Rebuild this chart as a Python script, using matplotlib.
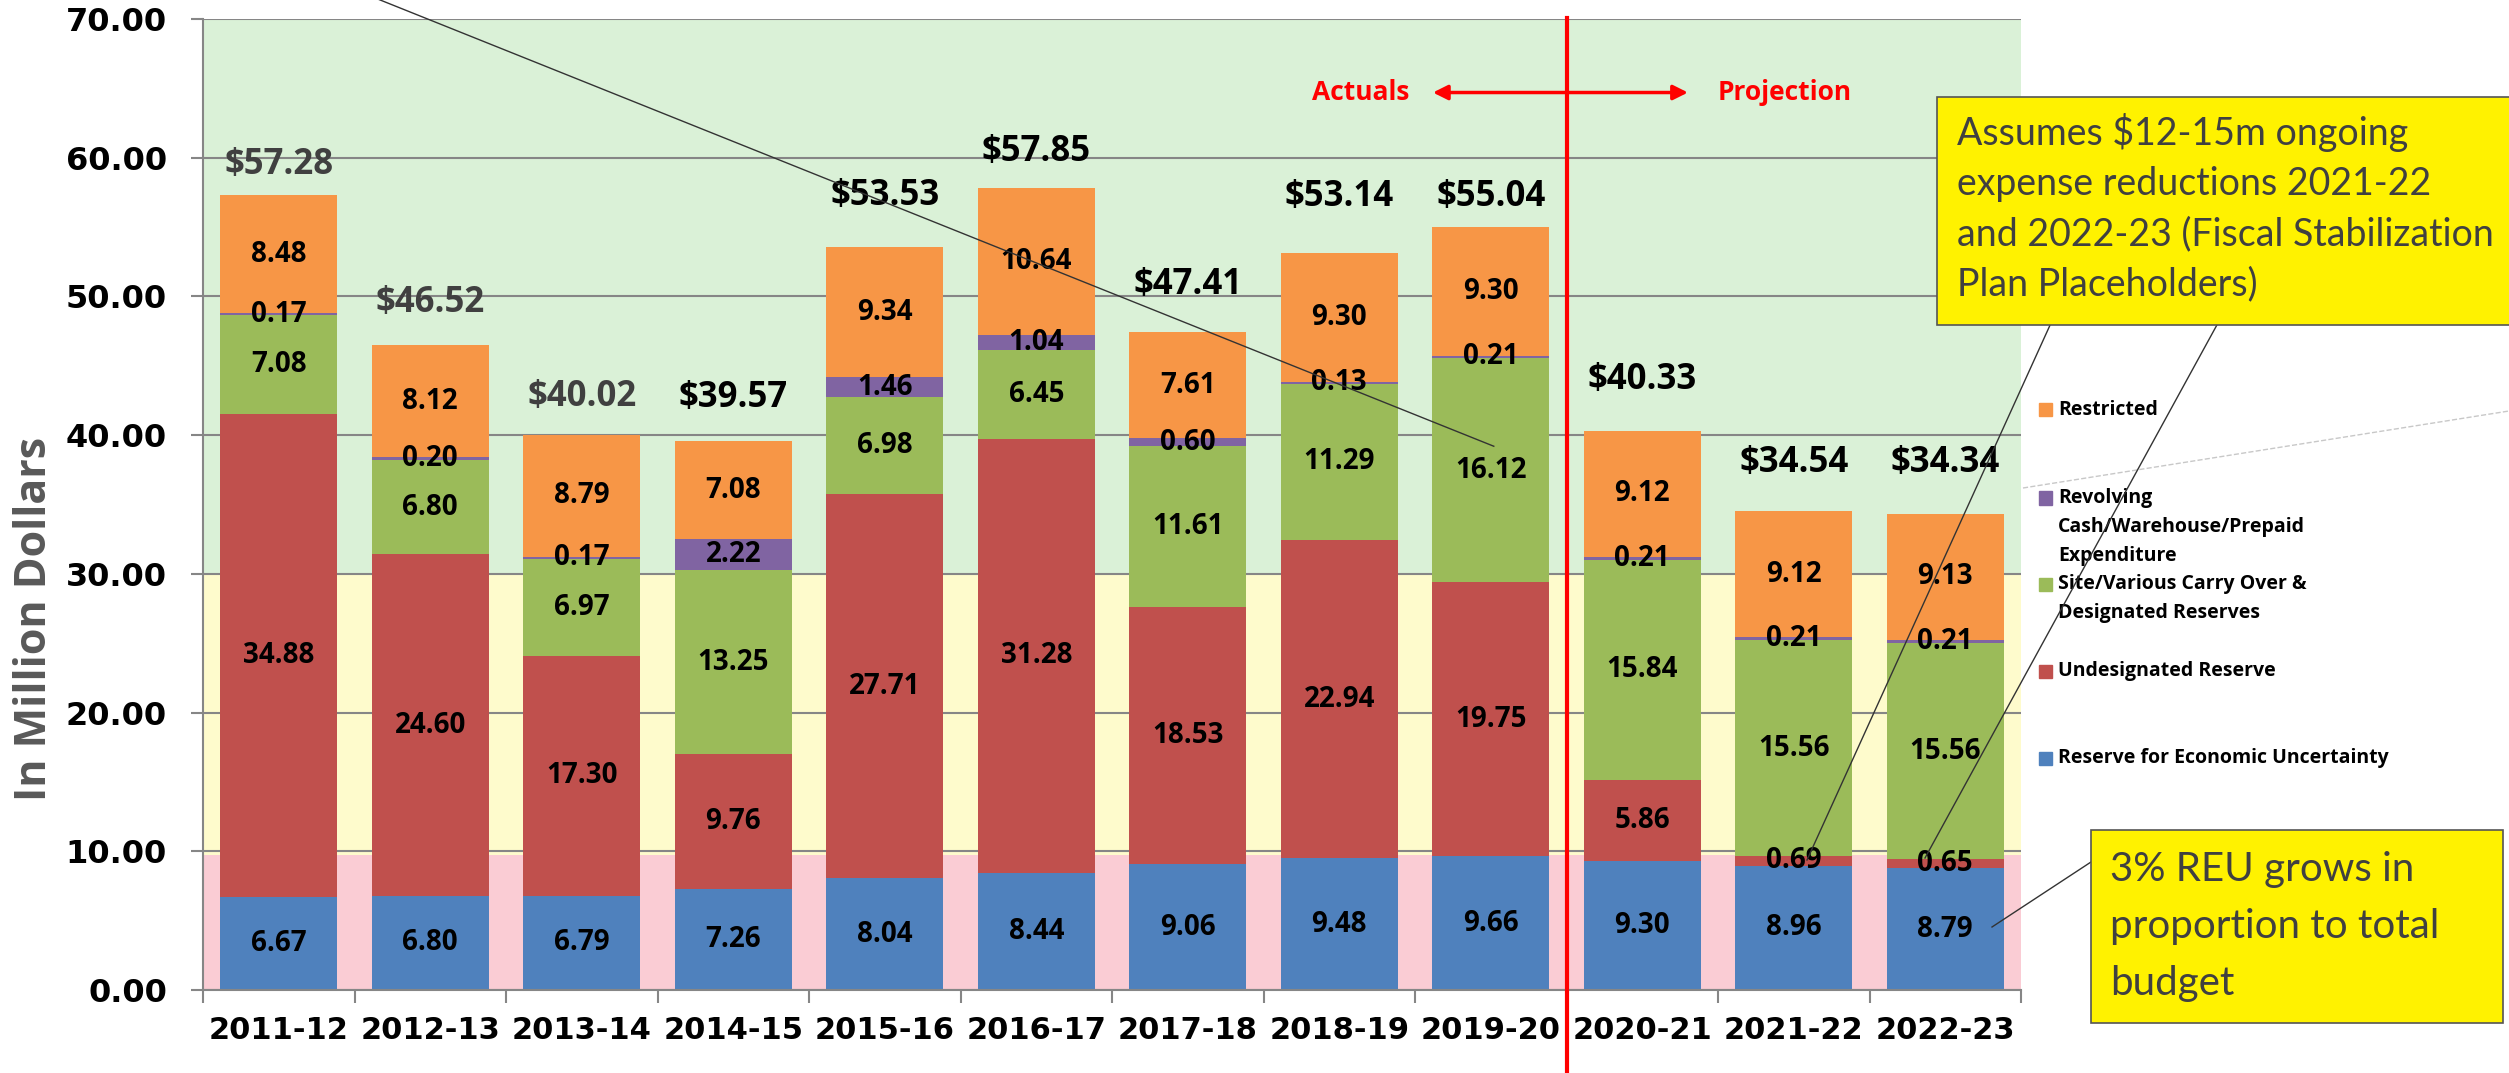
import matplotlib
matplotlib.use('Agg')
import matplotlib.pyplot as plt
import numpy as np
from matplotlib.patches import Rectangle
from matplotlib.lines import Line2D

plt.rcParams['font.family'] = ['Lato', 'DejaVu Sans']
BOLD = ['Open Sans', 'DejaVu Sans']

# Datos: millones de dolares por anio fiscal
years = ['2011-12', '2012-13', '2013-14', '2014-15', '2015-16', '2016-17',
         '2017-18', '2018-19', '2019-20', '2020-21', '2021-22', '2022-23']
reu = [6.67, 6.80, 6.79, 7.26, 8.04, 8.44, 9.06, 9.48, 9.66, 9.30, 8.96, 8.79]
undesignated = [34.88, 24.60, 17.30, 9.76, 27.71, 31.28, 18.53, 22.94, 19.75, 5.86, 0.69, 0.65]
site_carry = [7.08, 6.80, 6.97, 13.25, 6.98, 6.45, 11.61, 11.29, 16.12, 15.84, 15.56, 15.56]
revolving = [0.17, 0.20, 0.17, 2.22, 1.46, 1.04, 0.60, 0.13, 0.21, 0.21, 0.21, 0.21]
restricted = [8.48, 8.12, 8.79, 7.08, 9.34, 10.64, 7.61, 9.30, 9.30, 9.12, 9.12, 9.13]
totals = [57.28, 46.52, 40.02, 39.57, 53.53, 57.85, 47.41, 53.14, 55.04, 40.33, 34.54, 34.34]

series = [reu, undesignated, site_carry, revolving, restricted]
names = ['Reserve for Economic Uncertainty', 'Undesignated Reserve',
         'Site/Various Carry Over &\nDesignated Reserves',
         'Revolving\nCash/Warehouse/Prepaid\nExpenditure', 'Restricted']
colors = ['#4F81BD', '#C0504D', '#9BBB59', '#8064A2', '#F79646']

# donde van las etiquetas de totales (ajuste manual como en el original)
total_lift = [2.2, 3.0, 2.7, 3.1, 3.7, 2.55, 3.4, 4.05, 2.15, 3.65, 3.45, 3.65]
total_colors = ['#404040'] * 3 + ['black'] * 9

W, H = 2509, 1073
def fx(x):
    return x / W
def fy(y):
    return 1 - y / H

fig = plt.figure(figsize=(W / 100, H / 100), dpi=100)
ax = fig.add_axes([fx(203), fy(990), (2021 - 203) / W, (990 - 19) / H])

# fondos de colores
ax.axhspan(0, 9.7, color='#FACCD4', zorder=0, lw=0)
ax.axhspan(9.7, 30, color='#FEFBCC', zorder=0, lw=0)
ax.axhspan(30, 70, color='#DAF1D7', zorder=0, lw=0)

x = np.arange(len(years))
bottom = np.zeros(len(years))
for vals, col in zip(series, colors):
    vals = np.array(vals)
    ax.bar(x, vals, 0.77, bottom=bottom, color=col, zorder=2, lw=0)
    for i, v in enumerate(vals):
        ax.text(i, bottom[i] + v / 2, f'{v:.2f}', ha='center', va='center',
                fontsize=20, fontweight='bold', family=BOLD, color='black', zorder=5)
    bottom += vals

for i, t in enumerate(totals):
    ax.text(i, t + total_lift[i], f'${t:.2f}', ha='center', va='center',
            fontsize=25, fontweight='bold', family=BOLD, color=total_colors[i], zorder=5)

ax.set_xlim(-0.5, 11.5)
ax.set_ylim(0, 70)
ax.set_axisbelow(True)
ax.yaxis.grid(True, color='#868686', lw=1.5)
ax.set_yticks(range(0, 71, 10))
ax.set_yticklabels([f'{v:.2f}' for v in range(0, 71, 10)], fontsize=23,
                   fontweight='bold', family='DejaVu Sans')
ax.set_xticks(x)
ax.set_xticklabels(years, fontsize=22, fontweight='bold', family='DejaVu Sans')
ax.set_xticks(np.arange(-0.5, 12, 1), minor=True)
ax.tick_params(axis='y', length=9, width=1.5, color='#868686', pad=17)
ax.tick_params(axis='x', which='major', length=0, pad=19)
ax.tick_params(axis='x', which='minor', length=9, width=1.5, color='#868686')
for s in ['top', 'right']:
    ax.spines[s].set_visible(False)
for s in ['left', 'bottom']:
    ax.spines[s].set_color('#868686')
    ax.spines[s].set_linewidth(1.5)

# linea roja actual / proyeccion
ax.plot([8.5, 8.5], [70.1, -8], color='red', lw=3, clip_on=False, zorder=6)
ax.annotate('', xy=(7.6, 64.7), xytext=(9.32, 64.7),
            arrowprops=dict(arrowstyle='<|-|>', color='red', lw=2.5, mutation_scale=22))
ax.text(7.14, 64.7, 'Actuals', color='red', fontsize=19, fontweight='bold', family=BOLD,
        ha='center', va='center')
ax.text(9.94, 64.7, 'Projection', color='red', fontsize=19, fontweight='bold', family=BOLD,
        ha='center', va='center')

# linea diagonal de otra nota (fuera de la imagen)
ax.plot([-0.16, 8.02], [75, 39.2], color='#333333', lw=1, clip_on=False, zorder=6)

fig.text(fx(35), fy(619), 'In Million Dollars', rotation=90, ha='center', va='center',
         fontsize=31, fontweight='bold', family=BOLD, color='#595959')

# leyenda
leg_y = [758, 671, 584, 498, 410]
for name, col, yy in zip(names, colors, leg_y):
    fig.patches.append(Rectangle((fx(2039), fy(yy + 6.5)), 13 / W, 13 / H,
                                 transform=fig.transFigure, color=col))
    for k, line in enumerate(name.split('\n')):
        fig.text(fx(2058), fy(yy + 29 * k), line, fontsize=14, fontweight='bold',
                 family=BOLD, ha='left', va='center')

fig.add_artist(Line2D([fx(2023), fx(2509)], [fy(488), fy(411)], transform=fig.transFigure,
                      color='#C8C8C8', lw=1, ls='--'))

# notas amarillas
fig.patches.append(Rectangle((fx(1937), fy(325)), (2530 - 1937) / W, (325 - 97) / H,
                             transform=fig.transFigure, facecolor='#FFF200',
                             edgecolor='#555555', lw=1.2, zorder=7))
note1 = ['Assumes $12-15m ongoing', 'expense reductions 2021-22',
         'and 2022-23 (Fiscal Stabilization', 'Plan Placeholders)']
for k, line in enumerate(note1):
    fig.text(fx(1957), fy(133 + 50.5 * k), line, fontsize=27, color='#404040',
             ha='left', va='center', zorder=8)
fig.add_artist(Line2D([fx(2051), fx(1807)], [fy(323), fy(860)], transform=fig.transFigure,
                      color='#333333', lw=1, zorder=7))
fig.add_artist(Line2D([fx(2218), fx(1925)], [fy(323), fy(858)], transform=fig.transFigure,
                      color='#333333', lw=1, zorder=7))

fig.patches.append(Rectangle((fx(2091), fy(1023)), (2503 - 2091) / W, (1023 - 830) / H,
                             transform=fig.transFigure, facecolor='#FFF200',
                             edgecolor='#555555', lw=1.2, zorder=7))
note2 = ['3% REU grows in', 'proportion to total', 'budget']
for k, line in enumerate(note2):
    fig.text(fx(2110), fy(870 + 56.5 * k), line, fontsize=29, color='#404040',
             ha='left', va='center', zorder=8)
fig.add_artist(Line2D([fx(2091), fx(1992)], [fy(862), fy(927)], transform=fig.transFigure,
                      color='#333333', lw=1, zorder=7))

fig.savefig('out.png', dpi=100)
